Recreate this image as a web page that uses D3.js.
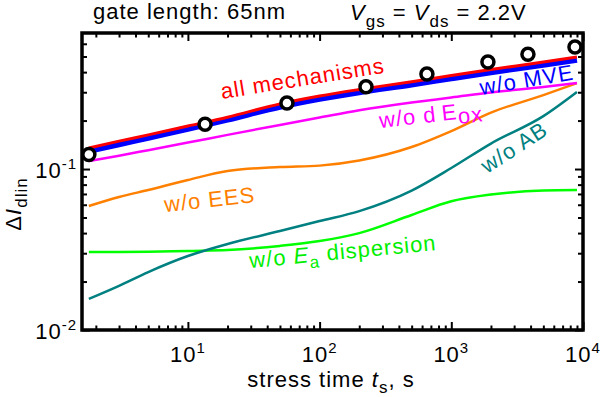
<!DOCTYPE html>
<html>
<head>
<meta charset="utf-8">
<script src="https://d3js.org/d3.v7.min.js"></script>
<style>
  body { margin: 0; background: #fff; }
  svg { display: block; font-family: "Liberation Sans", Arial, Helvetica, sans-serif; }
  svg text { letter-spacing: 1px; }
</style>
</head>
<body>
<svg id="chart" width="600" height="397"></svg>
<script>
// stress times where the model curves were sampled (s)
const times = [1.77, 3, 5, 10, 20, 50, 100, 200, 500, 1000, 2000, 5000, 9000];

// model curves, delta I_dlin
const allMechanisms = [0.135, 0.149, 0.163, 0.185, 0.210, 0.254, 0.284, 0.312, 0.349, 0.381, 0.415, 0.462, 0.497];
const woMVE        = [0.129, 0.142, 0.156, 0.177, 0.202, 0.243, 0.272, 0.299, 0.334, 0.365, 0.398, 0.443, 0.476];
const woDEox       = [0.112, 0.121, 0.131, 0.146, 0.163, 0.188, 0.209, 0.232, 0.259, 0.278, 0.299, 0.323, 0.342];
const woEES        = [0.0589, 0.067, 0.0741, 0.0855, 0.0972, 0.1028, 0.105, 0.113, 0.137, 0.172, 0.224, 0.288, 0.342];
const woAB         = [0.0156, 0.0188, 0.0229, 0.0288, 0.0342, 0.0412, 0.0475, 0.0548, 0.0735, 0.1015, 0.144, 0.213, 0.301];
const woEa         = [0.0305, 0.0305, 0.0306, 0.031, 0.0314, 0.0333, 0.0357, 0.040, 0.0518, 0.063, 0.0694, 0.0736, 0.0741];

// measured points
const measTimes = [1.77, 13.5, 56.5, 225, 653, 1897, 3819, 8690];
const measVals  = [0.123, 0.190, 0.257, 0.324, 0.389, 0.463, 0.517, 0.573];

// tick labels (exponents of 10)
const xTickValues = [10, 100, 1000, 10000];
const xTickExp = ["1", "2", "3", "4"];
const yTickValues = [0.01, 0.1];
const yTickExp = ["-2", "-1"];

const svg = d3.select("#chart");
const margin = { top: 33, right: 17, bottom: 67, left: 82 };
const width = 600 - margin.left - margin.right,
      height = 397 - margin.top - margin.bottom;

const x = d3.scaleLog().domain([1.57, 1e4]).range([0, width]);
const y = d3.scaleLog().domain([0.01, 0.7]).range([height, 0]);

const g = svg.append("g").attr("transform", "translate(" + margin.left + "," + margin.top + ")");

// minor tick positions
let minorX = [], minorY = [];
[1, 10, 100, 1000].forEach(d => d3.range(2, 10).forEach(k => { if (k * d > 1.57 && k * d < 1e4) minorX.push(k * d); }));
[0.01, 0.1].forEach(d => d3.range(2, 10).forEach(k => { if (k * d < 0.7) minorY.push(k * d); }));

function styleAxis(sel) {
    sel.select(".domain").remove();
    sel.selectAll("line").attr("stroke", "#000").attr("stroke-width", 2);
}

g.append("g").attr("transform", "translate(0," + height + ")")
    .call(d3.axisBottom(x).tickValues(xTickValues).tickSize(-8).tickFormat("")).call(styleAxis);
g.append("g").attr("transform", "translate(0," + height + ")")
    .call(d3.axisBottom(x).tickValues(minorX).tickSize(-4.5).tickFormat("")).call(styleAxis);
g.append("g")
    .call(d3.axisTop(x).tickValues(xTickValues).tickSize(-8).tickFormat("")).call(styleAxis);
g.append("g")
    .call(d3.axisTop(x).tickValues(minorX).tickSize(-4.5).tickFormat("")).call(styleAxis);
g.append("g")
    .call(d3.axisLeft(y).tickValues(yTickValues).tickSize(-8).tickFormat("")).call(styleAxis);
g.append("g")
    .call(d3.axisLeft(y).tickValues(minorY).tickSize(-5).tickFormat("")).call(styleAxis);
g.append("g").attr("transform", "translate(" + width + ",0)")
    .call(d3.axisRight(y).tickValues(yTickValues).tickSize(-8).tickFormat("")).call(styleAxis);
g.append("g").attr("transform", "translate(" + width + ",0)")
    .call(d3.axisRight(y).tickValues(minorY).tickSize(-5).tickFormat("")).call(styleAxis);

// tick labels with superscripts
xTickValues.forEach((v, i) => {
    let t = g.append("text").attr("x", x(v)).attr("y", height + 32)
        .attr("text-anchor", "middle").attr("font-size", 22);
    t.append("tspan").text("10");
    t.append("tspan").attr("font-size", 15).attr("dy", -9).text(xTickExp[i]);
});
yTickValues.forEach((v, i) => {
    let t = g.append("text").attr("x", -5).attr("y", y(v) + 9)
        .attr("text-anchor", "end").attr("font-size", 22);
    t.append("tspan").text("10");
    t.append("tspan").attr("font-size", 15).attr("dy", -9).text(yTickExp[i]);
});

// curves
const line = d3.line().x(d => x(d[0])).y(d => y(d[1])).curve(d3.curveMonotoneX);
const curves = [
    { vals: woEa, color: "#00ff00", w: 2.5 },
    { vals: woAB, color: "#008080", w: 2.5 },
    { vals: woEES, color: "#ff8000", w: 2.5 },
    { vals: woDEox, color: "#ff00ff", w: 2.5 },
    { vals: woMVE, color: "#0000ff", w: 5.5 },
    { vals: allMechanisms, color: "#ff0000", w: 3 }
];
curves.forEach(c => {
    g.append("path").datum(times.map((t, i) => [t, c.vals[i]]))
        .attr("d", line).attr("fill", "none")
        .attr("stroke", c.color).attr("stroke-width", c.w);
});

// frame
g.append("rect").attr("width", width).attr("height", height)
    .attr("fill", "none").attr("stroke", "#000").attr("stroke-width", 3.5);

// measured circles
g.selectAll(".meas").data(measTimes).enter().append("circle")
    .attr("class", "meas")
    .attr("cx", d => x(d)).attr("cy", (d, i) => y(measVals[i]))
    .attr("r", 6).attr("fill", "#fff").attr("stroke", "#000").attr("stroke-width", 3.5);

// curve labels
function label(px, py, angle, color, parts) {
    let t = svg.append("text").attr("transform", "translate(" + px + "," + py + ") rotate(" + angle + ")")
        .attr("fill", color).attr("font-size", 22);
    parts.forEach(p => {
        let s = t.append("tspan").text(p.t);
        if (p.i) s.attr("font-style", "italic");
        if (p.fs) s.attr("font-size", p.fs);
        if (p.dy) s.attr("dy", p.dy);
    });
    return t;
}
label(222, 99, -9.2, "#ff0000", [{ t: "all mechanisms" }]);
label(481, 95, -9.5, "#0000ff", [{ t: "w/o MVE" }]);
label(380, 128, -6.5, "#ff00ff", [{ t: "w/o d\u2009E" }, { t: "ox", dy: 5 }]);
label(165, 212, -6.2, "#ff8000", [{ t: "w/o EES" }]);
label(487, 174, -33, "#008080", [{ t: "w/o AB" }]);
label(250, 268, -5.5, "#00ee00", [{ t: "w/o " }, { t: "E", i: true }, { t: "a", fs: 17, dy: 6 }, { t: " dispersion", fs: 22, dy: -6 }]);

// titles
svg.append("text").attr("x", 93).attr("y", 19).attr("font-size", 22).text("gate length: 65nm");
let vt = svg.append("text").attr("x", 350).attr("y", 20).attr("font-size", 22);
vt.append("tspan").attr("font-style", "italic").text("V");
vt.append("tspan").attr("font-size", 17).attr("dy", 7).text("gs");
vt.append("tspan").attr("dy", -7).text(" = ");
vt.append("tspan").attr("font-style", "italic").text("V");
vt.append("tspan").attr("font-size", 17).attr("dy", 7).text("ds");
vt.append("tspan").attr("dy", -7).text(" = 2.2V");

// axis titles
let xt = svg.append("text").attr("x", 331).attr("y", 387).attr("text-anchor", "middle").attr("font-size", 22);
xt.append("tspan").text("stress time ");
xt.append("tspan").attr("font-style", "italic").text("t");
xt.append("tspan").attr("font-size", 17).attr("dy", 6).text("s");
xt.append("tspan").attr("dy", -6).text(", s");

let yt = svg.append("text").attr("transform", "translate(21,204) rotate(-90)")
    .attr("text-anchor", "middle").attr("font-size", 22);
yt.append("tspan").text("\u0394");
yt.append("tspan").attr("font-style", "italic").text("I");
yt.append("tspan").attr("font-size", 17).attr("dy", 6).text("dlin");
</script>
</body>
</html>
